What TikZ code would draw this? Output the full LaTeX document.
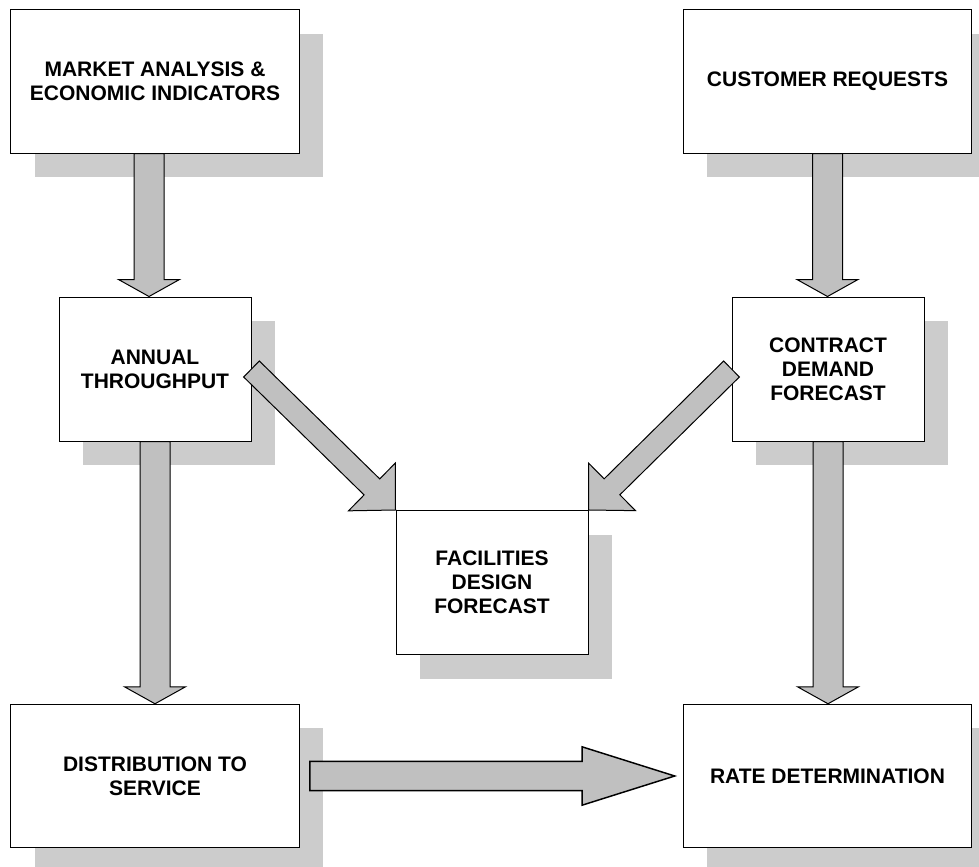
\documentclass[tikz,border=0pt]{standalone}
\usepackage{fontspec}
\setmainfont{Liberation Sans}
\usetikzlibrary{calc,shadows}
\definecolor{shadowgray}{RGB}{204,204,204}
\definecolor{arrowgray}{RGB}{192,192,192}
\tikzset{
  box/.style={draw=black, fill=white, rectangle, inner sep=0pt, align=center,
    font=\fontsize{15.75}{18}\selectfont\bfseries, line width=0.75pt,
    general shadow={fill=shadowgray, draw=none, shadow xshift=18pt, shadow yshift=-18pt}},
  widebox/.style={box, minimum width=216.4pt, minimum height=107.6pt},
  narrowbox/.style={box, minimum width=144pt, minimum height=108pt},
  blockarrow/.style={draw=black, fill=arrowgray, line width=0.75pt, line join=miter}
}
% #2 start, #3 tip, #4 shaft half width, #5 head half width, #6 head length
\newcommand{\blkarrow}[6][]{%
  \coordinate (bkH) at ($(#3)!#6!(#2)$);
  \draw[blockarrow,#1] ($(#2)!#4!90:(#3)$) -- ($(bkH)!#4!-90:(#2)$) -- ($(bkH)!#5!-90:(#2)$)
    -- (#3) -- ($(bkH)!#5!90:(#2)$) -- ($(bkH)!#4!90:(#2)$) -- ($(#2)!#4!-90:(#3)$) -- cycle;
}
\begin{document}
\begin{tikzpicture}[x=0.75pt, y=-0.75pt]
\useasboundingbox (0,0) rectangle (979,867);
\clip (0,0) rectangle (979,867);
% boxes
\node[widebox] (b1) at (155,81.5) {MARKET ANALYSIS \&\\ECONOMIC INDICATORS};
\node[widebox] (b2) at (827.5,81.5) {CUSTOMER REQUESTS};
\node[narrowbox] (b3) at (155,369) {ANNUAL\\THROUGHPUT};
\node[narrowbox] (b4) at (828,369) {CONTRACT\\DEMAND\\FORECAST};
\node[narrowbox] (b5) at (492,582.5) {FACILITIES\\DESIGN\\FORECAST};
\node[widebox] (b6) at (155,776) {DISTRIBUTION TO\\SERVICE};
\node[widebox] (b7) at (827.5,776) {RATE DETERMINATION};
% connector end points
\coordinate (a1s) at ([xshift=-4.5pt]b1.south);
\coordinate (a1e) at ([xshift=-4.5pt]b3.north);
\coordinate (a2e) at (b2.south |- b4.north);
\coordinate (a4e) at (b4.south |- b7.north);
\coordinate (hs) at ([xshift=7.5pt]b6.east);
\coordinate (he) at ([xshift=-6pt]b7.west);
% connectors
\blkarrow{a1s}{a1e}{11.25pt}{22.9pt}{12.75pt}
\blkarrow{b2.south}{a2e}{11.25pt}{22.9pt}{12.75pt}
\blkarrow{b3.south}{b6.north}{11.25pt}{22.9pt}{12.75pt}
\blkarrow{b4.south}{a4e}{11.25pt}{22.9pt}{12.75pt}
\blkarrow{b3.east}{b5.north west}{8.4pt}{25.1pt}{24.75pt}
\blkarrow{b4.west}{b5.north east}{8.4pt}{25.1pt}{24.75pt}
\blkarrow[line width=1.1pt]{hs}{he}{11pt}{21.9pt}{69.5pt}
\end{tikzpicture}
\end{document}
